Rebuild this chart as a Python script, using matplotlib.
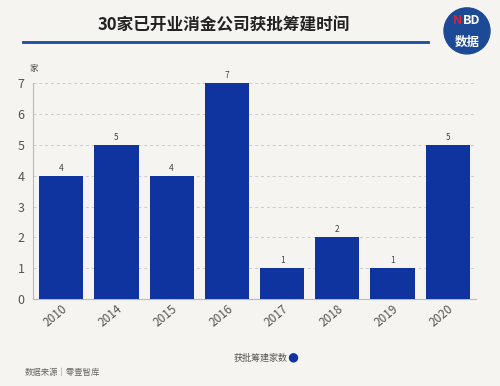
import matplotlib.pyplot as plt
from matplotlib.patches import Circle

plt.rcParams['font.family'] = ['Noto Sans CJK SC', 'DejaVu Sans']

years = ['2010', '2014', '2015', '2016', '2017', '2018', '2019', '2020']
counts = [4, 5, 4, 7, 1, 2, 1, 5]

bg = '#f6f4f1'
bar_color = '#0f339f'

fig = plt.figure(figsize=(5, 3.86), dpi=100, facecolor=bg)
ax = fig.add_axes([0.066, 0.225, 0.886, 0.56], facecolor=bg)

x = range(len(years))
ax.bar(x, counts, width=0.8, color=bar_color, zorder=3)
for xi, v in zip(x, counts):
    ax.text(xi, v + 0.1, str(v), ha='center', va='bottom', fontsize=6, color='#444444')

ax.set_xlim(-0.51, len(years) - 0.49)
ax.set_ylim(0, 7)
ax.set_yticks(range(8))
ax.tick_params(axis='y', length=0, labelsize=9, colors='#555555', pad=6)
ax.tick_params(axis='x', length=0, labelsize=8.5, colors='#555555', pad=2)
ax.set_xticks(list(x))
ax.set_xticklabels(years, rotation=40, ha='right', rotation_mode='anchor')
ax.grid(axis='y', linestyle=(0, (3, 3)), color='#cccccc', linewidth=0.7, zorder=0)
for s in ['top', 'right']:
    ax.spines[s].set_visible(False)
ax.spines['left'].set_color('#bbbbbb')
ax.spines['bottom'].set_color('#bbbbbb')

# header
fig.text(0.448, 0.935, '30家已开业消金公司获批筹建时间', ha='center', va='center',
         fontsize=12, fontweight='bold', color='#222222')
fig.add_artist(plt.Line2D([0.045, 0.855], [0.89, 0.89], color='#1a4a99', linewidth=2))

# logo
fig.add_artist(Circle((0.934 * 5, 0.92 * 3.86), 0.23, transform=fig.dpi_scale_trans,
                      color='#1d4a96'))
fig.text(0.925, 0.948, 'N', ha='right', va='center', fontsize=9, fontweight='bold', color='#e0202a')
fig.text(0.925, 0.948, 'BD', ha='left', va='center', fontsize=9, fontweight='bold', color='white')
fig.text(0.934, 0.89, '数据', ha='center', va='center', fontsize=9, fontweight='bold', color='white')

fig.text(0.068, 0.822, '家', ha='center', va='center', fontsize=6, color='#444444')

# legend
fig.text(0.575, 0.073, '获批筹建家数', ha='right', va='center', fontsize=6.5, color='#555555')
fig.add_artist(Circle((0.587 * 5, 0.073 * 3.86), 0.04, transform=fig.dpi_scale_trans,
                      color=bar_color))

fig.text(0.05, 0.035, '数据来源｜零壹智库', ha='left', va='center', fontsize=6, color='#666666')

fig.savefig('out.png', dpi=100, facecolor=bg)
